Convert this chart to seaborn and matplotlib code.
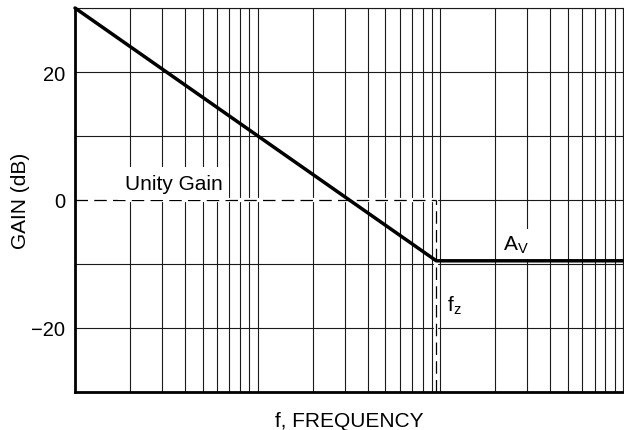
import matplotlib
matplotlib.use("Agg")
import matplotlib.pyplot as plt
import seaborn as sns
import pandas as pd
from matplotlib.ticker import FixedLocator, LogLocator, NullFormatter

# Asymptotic gain of the zero-compensated stage
freq_hz = [1, 95, 1000]
gain_db = [30, -9.5, -9.5]
zero_freq = 95
unity_gain_db = 0
y_tick_values = [-20, 0, 20]
y_grid_values = [-30, -20, -10, 0, 10, 20, 30]

sns.set_style("white")
plt.rcParams["font.family"] = ["Liberation Sans", "DejaVu Sans"]
plt.rcParams["mathtext.fontset"] = "custom"
plt.rcParams["mathtext.rm"] = "Liberation Sans"
plt.rcParams["axes.unicode_minus"] = True

fig = plt.figure(figsize=(6.24, 4.31), dpi=100)
ax = fig.add_axes([75 / 624, 1 - 393 / 431, 548 / 624, 384 / 431])

df = pd.DataFrame({"f": freq_hz, "gain": gain_db})

ax.set_xscale("log")
ax.set_xlim(1, 1000)
ax.set_ylim(-30, 30)

ax.xaxis.set_major_locator(LogLocator(base=10, numticks=10))
ax.xaxis.set_minor_locator(LogLocator(base=10, subs=range(2, 10), numticks=100))
ax.xaxis.set_major_formatter(NullFormatter())
ax.xaxis.set_minor_formatter(NullFormatter())
ax.yaxis.set_major_locator(FixedLocator(y_tick_values))
ax.yaxis.set_minor_locator(FixedLocator(y_grid_values))

ax.grid(which="both", color="#1a1a1a", lw=0.8, zorder=1)
ax.set_axisbelow(True)
ax.tick_params(which="both", length=0, labelsize=14.5, pad=7, colors="black")

for side in ("left", "bottom"):
    ax.spines[side].set_linewidth(2.0)
    ax.spines[side].set_color("black")
for side in ("top", "right"):
    ax.spines[side].set_linewidth(0.8)
    ax.spines[side].set_color("#1a1a1a")

# Unity-gain reference and zero-frequency marker, drawn over a white underlay
dash = (0, (10, 5))
ax.plot([1, zero_freq], [unity_gain_db, unity_gain_db], color="white", lw=3, zorder=2)
ax.plot([1, zero_freq], [unity_gain_db, unity_gain_db], color="black", lw=0.9,
        ls=dash, zorder=3)
ax.plot([zero_freq, zero_freq], [-30, unity_gain_db], color="white", lw=3, zorder=2)
ax.plot([zero_freq, zero_freq], [-30, unity_gain_db], color="black", lw=0.9,
        ls=dash, zorder=3)

ax.text(3.46, 2.6, "Unity Gain", fontsize=15, ha="center", va="center", zorder=4,
        color="black", bbox=dict(facecolor="white", edgecolor="none", pad=5))
ax.text(259, -6.9, r"A$_\mathrm{V}$", fontsize=15, ha="center", va="center",
        color="black", zorder=4,
        bbox=dict(facecolor="white", edgecolor="none", pad=3.5))
ax.text(119, -16.3, r"f$_\mathrm{z}$", fontsize=15, ha="center", va="center",
        color="black", zorder=4)

# Gain curve sits above the label backgrounds
sns.lineplot(data=df, x="f", y="gain", color="black", lw=2.5, ax=ax, zorder=6,
             clip_on=False)

ax.set_xlabel("f, FREQUENCY", fontsize=15, color="black")
ax.set_ylabel("GAIN (dB)", fontsize=15, color="black")
ax.xaxis.set_label_coords(0.5, -0.05)
ax.yaxis.set_label_coords(-0.082, 0.5)

fig.savefig("out.png", dpi=100)
